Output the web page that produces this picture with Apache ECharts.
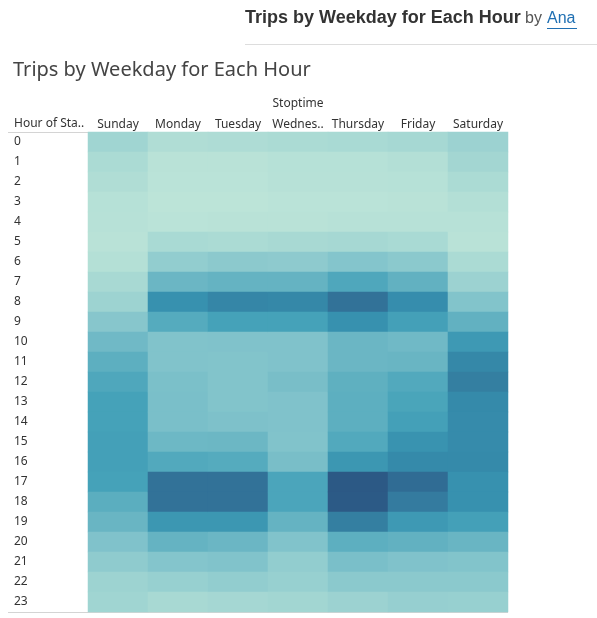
<!DOCTYPE html>
<html>
<head>
<meta charset="utf-8">
<script src="https://cdn.jsdelivr.net/npm/echarts@6/dist/echarts.min.js"></script>
<style>
  html, body { margin: 0; padding: 0; background: #fff; }
  #chart { width: 597px; height: 618px; }
</style>
</head>
<body>
<div id="chart"></div>
<script>
// 数据
var days = ['Sunday', 'Monday', 'Tuesday', 'Wednesday', 'Thursday', 'Friday', 'Saturday'];
var hours = ['0','1','2','3','4','5','6','7','8','9','10','11','12','13','14','15','16','17','18','19','20','21','22','23'];

var sunday    = [1150,800,650,450,400,350,500,900,1250,2050,2850,3500,3950,4250,4250,4350,4350,4250,3550,3100,2300,1750,1250,1150];
var monday    = [650,350,300,250,300,850,1650,3050,5150,3750,2250,2250,2450,2500,2500,2950,3850,6850,6850,4850,3250,2150,1450,900];
var tuesday   = [700,350,300,250,350,800,1850,3250,5750,4250,2300,2200,2200,2200,2350,3000,3750,6850,6850,4850,3050,2250,1650,1000];
var wednesday = [800,450,400,300,350,900,1800,3250,5650,4250,2300,2300,2550,2300,2300,2250,2550,4050,4050,3250,2250,1650,1450,1100];
var thursday  = [850,450,400,300,400,950,2150,3950,6850,5150,3050,3050,3450,3500,3500,3850,4850,8250,8200,6150,3500,2500,1900,1300];
var friday    = [950,550,450,350,400,850,1900,3350,5350,4350,2850,3100,3850,4100,4350,5050,5550,7150,6350,4750,3350,2300,1900,1500];
var saturday  = [1300,1050,800,550,400,350,800,1300,2200,3350,4750,5650,6150,5550,5450,5450,5550,5150,5150,4350,3100,2200,1900,1450];

var byDay = [sunday, monday, tuesday, wednesday, thursday, friday, saturday];
var cells = [];
byDay.forEach(function (arr, d) {
    arr.forEach(function (v, h) { cells.push([d, h, v]); });
});

var myChart = echarts.init(document.getElementById('chart'));
var font = '"Noto Sans", sans-serif';

option = {
    backgroundColor: '#fff',
    animation: false,
    grid: { left: 88, right: 89, top: 132, height: 480 },
    xAxis: {
        type: 'category',
        position: 'top',
        data: days,
        axisLine: { show: false },
        axisTick: { show: false },
        splitLine: { show: false },
        axisLabel: {
            interval: 0,
            color: '#333', fontSize: 12, fontFamily: font, margin: 1,
            width: 56, overflow: 'truncate', ellipsis: '..'
        }
    },
    yAxis: {
        type: 'category',
        inverse: true,
        data: hours,
        axisLine: { show: false },
        axisTick: { show: false },
        splitLine: { show: false },
        axisLabel: {
            interval: 0, color: '#333', fontSize: 12, fontFamily: font,
            align: 'left', margin: 74, padding: [4, 0, 0, 0]
        }
    },
    visualMap: {
        show: false,
        min: 250,
        max: 8250,
        dimension: 2,
        inRange: {
            color: ['#bce4d8', '#9dd3d1', '#81c3cb', '#65b3c2', '#45a2b9', '#368fae', '#347da0', '#306a93', '#2c5985']
        }
    },
    series: [{
        type: 'heatmap',
        data: cells,
        itemStyle: { borderWidth: 0 },
        emphasis: { disabled: true }
    }],
    graphic: [
        { type: 'text', left: 245, top: 9, style: { text: 'Trips by Weekday for Each Hour', font: 'bold 18px "Liberation Sans", Arial, sans-serif', fill: '#333' } },
        { type: 'text', left: 525, top: 11, style: { text: 'by', font: '16px "Liberation Sans", Arial, sans-serif', fill: '#555' } },
        { type: 'text', left: 547, top: 11, style: { text: 'Ana', font: '16px "Liberation Sans", Arial, sans-serif', fill: '#1f6fb2' } },
        { type: 'line', shape: { x1: 547, y1: 28.5, x2: 577, y2: 28.5 }, style: { stroke: '#1f6fb2', lineWidth: 1 } },
        { type: 'line', shape: { x1: 245, y1: 44.5, x2: 597, y2: 44.5 }, style: { stroke: '#dddddd', lineWidth: 1 } },
        { type: 'text', left: 13, top: 60, style: { text: 'Trips by Weekday for Each Hour', font: '20px ' + font, fill: '#444' } },
        { type: 'text', x: 298, y: 104, style: { text: 'Stoptime', font: '12px ' + font, fill: '#333', align: 'center', verticalAlign: 'middle' } },
        { type: 'text', x: 14, y: 124, style: { text: 'Hour of Sta..', font: '12px ' + font, fill: '#333', verticalAlign: 'middle' } },
        { type: 'line', shape: { x1: 8, y1: 132.5, x2: 88, y2: 132.5 }, style: { stroke: '#d4d4d4', lineWidth: 1 } },
        { type: 'line', shape: { x1: 8, y1: 612.5, x2: 508, y2: 612.5 }, style: { stroke: '#d4d4d4', lineWidth: 1 } }
    ]
};
myChart.setOption(option);
</script>
</body>
</html>
